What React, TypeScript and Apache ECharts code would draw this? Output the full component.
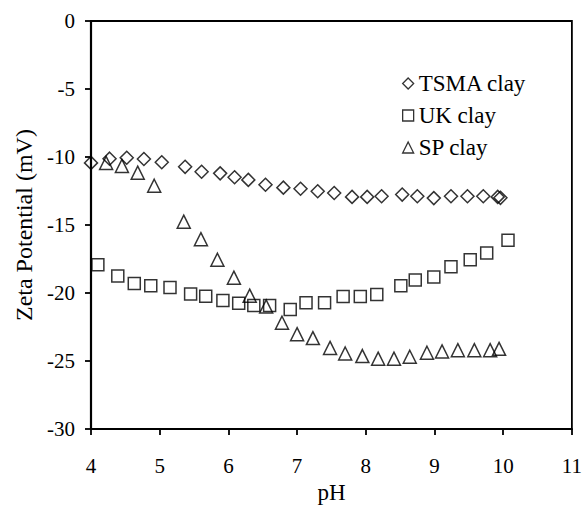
import React, { useEffect, useRef } from "react";
import * as echarts from "echarts";

const tsmaPH = [4.0, 4.27, 4.52, 4.77, 5.03, 5.37, 5.61, 5.88, 6.09, 6.29, 6.54, 6.8, 7.05, 7.3, 7.54, 7.8, 8.02, 8.23, 8.53, 8.75, 8.99, 9.24, 9.48, 9.71, 9.92, 9.96];
const tsmaZeta = [-10.43, -10.12, -10.05, -10.14, -10.38, -10.72, -11.08, -11.2, -11.49, -11.68, -12.04, -12.25, -12.33, -12.52, -12.64, -12.93, -12.93, -12.88, -12.76, -12.88, -13.02, -12.88, -12.88, -12.88, -12.93, -13.0];

const ukPH = [4.1, 4.39, 4.63, 4.87, 5.15, 5.45, 5.67, 5.92, 6.15, 6.37, 6.6, 6.9, 7.13, 7.4, 7.67, 7.92, 8.16, 8.51, 8.72, 8.99, 9.24, 9.52, 9.76, 10.07];
const ukZeta = [-17.91, -18.75, -19.3, -19.47, -19.59, -20.07, -20.24, -20.55, -20.74, -20.91, -20.91, -21.2, -20.72, -20.72, -20.26, -20.26, -20.1, -19.47, -19.04, -18.82, -18.06, -17.55, -17.05, -16.12];

const spPH = [4.22, 4.45, 4.68, 4.92, 5.35, 5.6, 5.84, 6.08, 6.31, 6.55, 6.78, 7.0, 7.23, 7.48, 7.7, 7.95, 8.18, 8.41, 8.64, 8.89, 9.11, 9.34, 9.58, 9.81, 9.94];
const spZeta = [-10.43, -10.65, -11.15, -12.11, -14.75, -16.04, -17.55, -18.87, -20.19, -20.98, -22.18, -23.02, -23.31, -24.03, -24.44, -24.63, -24.82, -24.82, -24.68, -24.39, -24.29, -24.2, -24.2, -24.2, -24.1];

const seriesNames = ["TSMA clay", "UK clay", "SP clay"];
const seriesSymbols = ["diamond", "rect", "triangle"];

const pairs = (xs: number[], ys: number[]) => xs.map((x, i) => [x, ys[i]]);

export default function App() {
  const ref = useRef<HTMLDivElement>(null);
  useEffect(() => {
    document.body.style.margin = "0";
    const chart = echarts.init(ref.current!, null, { renderer: "svg" });
    const font = "'Liberation Serif', 'Times New Roman', serif";
    const marker = { color: "transparent", borderColor: "#000", borderWidth: 1.5 };
    const axisCommon = {
      type: "value",
      nameLocation: "middle",
      axisLine: { onZero: false, lineStyle: { color: "#000", width: 2.2 } },
      axisTick: { inside: false, length: 6, lineStyle: { color: "#000", width: 1.8 } },
      axisLabel: { fontSize: 21, color: "#000", fontFamily: font },
      splitLine: { show: false },
    };
    chart.setOption({
      animation: false,
      backgroundColor: "#fff",
      textStyle: { fontFamily: font, color: "#000" },
      grid: {
        left: 91,
        right: 10,
        top: 21,
        bottom: 71,
        show: true,
        borderColor: "#000",
        borderWidth: 1.8,
      },
      legend: {
        orient: "vertical",
        left: 402,
        top: 72,
        padding: 0,
        itemWidth: 11,
        itemHeight: 11,
        itemGap: 9,
        itemStyle: { color: "transparent", borderColor: "#000", borderWidth: 1.3 },
        textStyle: { fontSize: 23, fontFamily: font, color: "#000", lineHeight: 20 },
        data: seriesNames.map((n, i) => ({ name: n, icon: seriesSymbols[i] })),
      },
      xAxis: {
        ...axisCommon,
        min: 4,
        max: 11,
        interval: 1,
        name: "pH",
        nameGap: 47,
        nameTextStyle: { fontSize: 23, color: "#000", fontFamily: font },
        axisLabel: { ...axisCommon.axisLabel, margin: 26 },
      },
      yAxis: {
        ...axisCommon,
        min: -30,
        max: 0,
        interval: 5,
        name: "Zeta Potential (mV)",
        nameGap: 49,
        nameTextStyle: { fontSize: 24, color: "#000", fontFamily: font },
        axisLabel: { ...axisCommon.axisLabel, margin: 16 },
      },
      series: [
        { name: seriesNames[0], type: "scatter", symbol: seriesSymbols[0], symbolSize: 13, itemStyle: marker, data: pairs(tsmaPH, tsmaZeta) },
        { name: seriesNames[1], type: "scatter", symbol: seriesSymbols[1], symbolSize: 12, itemStyle: marker, data: pairs(ukPH, ukZeta) },
        { name: seriesNames[2], type: "scatter", symbol: seriesSymbols[2], symbolSize: 13, itemStyle: marker, data: pairs(spPH, spZeta) },
      ],
    });
    return () => chart.dispose();
  }, []);
  return <div ref={ref} style={{ width: 585, height: 509 }} />;
}
